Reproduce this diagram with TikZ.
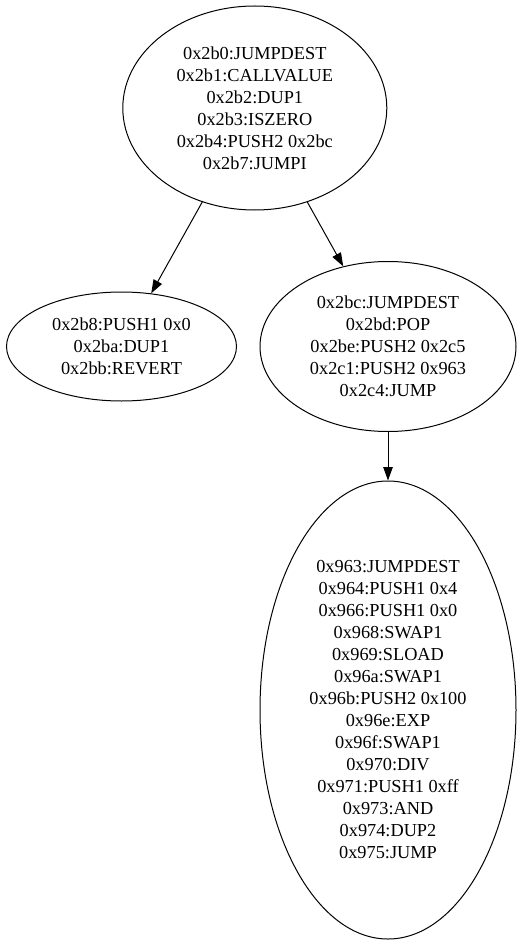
\documentclass[tikz,border=0pt]{standalone}
\usepackage{fontspec}
\setmainfont{Liberation Serif}
\usetikzlibrary{arrows.meta,shapes.geometric}

\begin{document}
\begin{tikzpicture}[x=1pt, y=-1pt, line width=1pt,
  block/.style={draw, ellipse, inner sep=0pt, align=center,
    font=\fontsize{18.3pt}{22pt}\selectfont},
  flow/.style={-{Triangle[length=13.5pt,width=9.5pt]}}]
\useasboundingbox (0,0) rectangle (521,944);

% basic blocks
\node[block, minimum width=264pt, minimum height=204pt] (b2b0) at (254.8,108)
  {0x2b0:JUMPDEST\\0x2b1:CALLVALUE\\0x2b2:DUP1\\0x2b3:ISZERO\\0x2b4:PUSH2 0x2bc\\0x2b7:JUMPI};
\node[block, minimum width=230pt, minimum height=109pt] (b2b8) at (121.5,346.5)
  {0x2b8:PUSH1 0x0\\0x2ba:DUP1\\0x2bb:REVERT};
\node[block, minimum width=256pt, minimum height=170pt] (b2bc) at (388,346.5)
  {0x2bc:JUMPDEST\\0x2bd:POP\\0x2be:PUSH2 0x2c5\\0x2c1:PUSH2 0x963\\0x2c4:JUMP};
\node[block, minimum width=256pt, minimum height=458pt] (b963) at (388,710)
  {0x963:JUMPDEST\\0x964:PUSH1 0x4\\0x966:PUSH1 0x0\\0x968:SWAP1\\0x969:SLOAD\\0x96a:SWAP1\\
   0x96b:PUSH2 0x100\\0x96e:EXP\\0x96f:SWAP1\\0x970:DIV\\0x971:PUSH1 0xff\\0x973:AND\\
   0x974:DUP2\\0x975:JUMP};

% edges
\draw[flow] (b2b0) -- (b2b8);
\draw[flow] (b2b0) -- (b2bc);
\draw[flow] (b2bc) -- (b963);
\end{tikzpicture}
\end{document}
